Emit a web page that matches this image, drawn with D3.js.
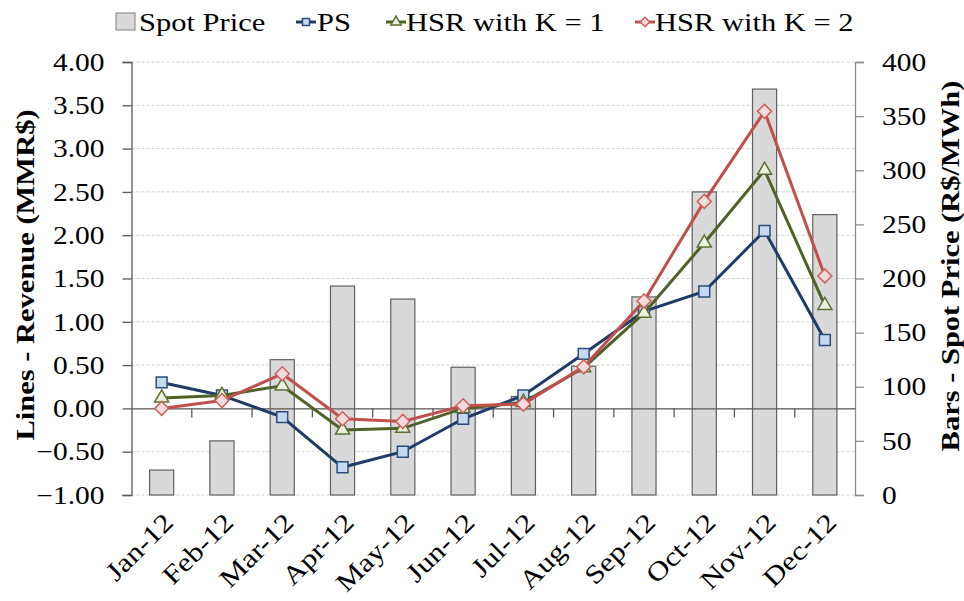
<!DOCTYPE html>
<html>
<head>
<meta charset="utf-8">
<script src="https://cdn.jsdelivr.net/npm/d3@7/dist/d3.min.js"></script>
<style>
  body { margin: 0; background: #fff; }
  svg text { font-family: "Liberation Serif", "Times New Roman", serif; fill: #000; }
</style>
</head>
<body>
<svg id="chart" width="964" height="601"></svg>
<script>
// months on the x axis
const months = ["Jan-12", "Feb-12", "Mar-12", "Apr-12", "May-12", "Jun-12",
  "Jul-12", "Aug-12", "Sep-12", "Oct-12", "Nov-12", "Dec-12"]

// bars - spot price (R$/MWh), right axis
const spotPrice = [23, 50, 125, 193, 181, 118, 91, 119, 183, 280, 375, 259]

// lines - revenue (MMR$), left axis
const psRevenue = [0.30, 0.15, -0.10, -0.68, -0.50, -0.12, 0.15, 0.63, 1.12, 1.35, 2.05, 0.79]
const hsrK1 = [0.12, 0.15, 0.26, -0.25, -0.23, 0.00, 0.07, 0.47, 1.10, 1.91, 2.75, 1.19]
const hsrK2 = [0.00, 0.09, 0.40, -0.12, -0.15, 0.03, 0.05, 0.48, 1.24, 2.39, 3.43, 1.53]

const leftTicks = [-1, -0.5, 0, 0.5, 1, 1.5, 2, 2.5, 3, 3.5, 4]
const rightTicks = [0, 50, 100, 150, 200, 250, 300, 350, 400]

const series = [
  { name: "PS", values: psRevenue, line: "#1f3b66", fill: "#c5d9f1", stroke: "#2c4d7a", shape: "square" },
  { name: "HSR with K = 1", values: hsrK1, line: "#4f6228", fill: "#ebf1de", stroke: "#5b7031", shape: "triangle" },
  { name: "HSR with K = 2", values: hsrK2, line: "#c0504d", fill: "#f2dcdb", stroke: "#d0605c", shape: "diamond" }
]

const svg = d3.select("#chart")
const plotLeft = 131.5, plotRight = 855, plotTop = 62, plotBottom = 495
const FS = 29.5        // text size (width)
const SQ = 0.85        // the source text is a bit flattened

const x = d3.scaleBand().domain(months).range([plotLeft, plotRight])
const yL = d3.scaleLinear().domain([-1, 4]).range([plotBottom, plotTop])
const yR = d3.scaleLinear().domain([0, 400]).range([plotBottom, plotTop])
const cx = m => x(m) + x.bandwidth() / 2

// gridlines (dashed)
svg.append("g")
  .selectAll("line")
  .data(leftTicks)
  .join("line")
  .attr("x1", plotLeft).attr("x2", plotRight)
  .attr("y1", d => yL(d)).attr("y2", d => yL(d))
  .attr("stroke", "#d0d0d0")
  .attr("stroke-dasharray", "3,2")
  .attr("stroke-width", 1)

// bars
const barW = x.bandwidth() * 0.4
svg.append("g")
  .selectAll("rect")
  .data(spotPrice)
  .join("rect")
  .attr("x", (d, i) => cx(months[i]) - barW / 2)
  .attr("y", d => yR(d))
  .attr("width", barW)
  .attr("height", d => plotBottom - yR(d))
  .attr("fill", "#d9d9d9")
  .attr("stroke", "#606060")
  .attr("stroke-width", 1.2)

// left axis
const axL = svg.append("g")
  .attr("transform", `translate(${plotLeft},0)`)
  .call(d3.axisLeft(yL).tickValues(leftTicks).tickFormat(d3.format(".2f")).tickSize(9).tickPadding(0))
axL.select(".domain").attr("stroke", "#595959").attr("stroke-width", 1.3)
axL.selectAll(".tick line").attr("stroke", "#595959").attr("stroke-width", 1.3)
axL.selectAll("text")
  .attr("x", null).attr("dy", null)
  .attr("font-size", FS)
  .attr("transform", `translate(-27,0) scale(1,${SQ})`)
  .attr("dominant-baseline", "central")

// right axis
const axR = svg.append("g")
  .attr("transform", `translate(${plotRight},0)`)
  .call(d3.axisRight(yR).tickValues(rightTicks).tickSize(9).tickPadding(0))
axR.select(".domain").attr("stroke", "#8c8c8c").attr("stroke-width", 1.3)
axR.selectAll(".tick line").attr("stroke", "#8c8c8c").attr("stroke-width", 1.3)
axR.selectAll("text")
  .attr("x", null).attr("dy", null)
  .attr("font-size", FS)
  .attr("transform", `translate(27,0) scale(1,${SQ})`)
  .attr("dominant-baseline", "central")

// zero line with category ticks
const zeroY = yL(0)
const axX = svg.append("g")
  .attr("transform", `translate(0,${zeroY})`)
  .call(d3.axisBottom(x).tickSize(0).tickFormat(""))
axX.select(".domain").attr("stroke", "#595959").attr("stroke-width", 1.3)
axX.selectAll(".tick").remove()
axX.selectAll("line.cat")
  .data(months.slice(1))
  .join("line")
  .attr("class", "cat")
  .attr("x1", d => x(d)).attr("x2", d => x(d))
  .attr("y1", 0).attr("y2", 9)
  .attr("stroke", "#595959").attr("stroke-width", 1.3)

// month labels, rotated
svg.append("g")
  .selectAll("text")
  .data(months)
  .join("text")
  .attr("transform", d => `translate(${cx(d) + 13},${plotBottom + 29}) rotate(-45) scale(1,${SQ})`)
  .attr("text-anchor", "end")
  .attr("font-size", 31)
  .text(d => d)

// marker shapes
const symbolFor = {
  square: d3.symbol().type(d3.symbolSquare).size(118),
  triangle: d3.symbol().type(d3.symbolTriangle).size(85),
  diamond: d3.symbol().type(d3.symbolSquare).size(98)
}
function drawMarker(g, s, px, py, sym) {
  g.append("path")
    .attr("d", sym())
    .attr("fill", s.fill)
    .attr("stroke", s.stroke)
    .attr("stroke-width", 1.5)
    .attr("transform", `translate(${px},${py})${s.shape === "diamond" ? " rotate(45)" : ""}`)
}

// lines + markers
const line = d3.line()
  .x((d, i) => cx(months[i]))
  .y(d => yL(d))
series.forEach(s => {
  const g = svg.append("g")
  g.append("path")
    .attr("d", line(s.values))
    .attr("fill", "none")
    .attr("stroke", s.line)
    .attr("stroke-width", 3)
  s.values.forEach((v, i) => drawMarker(g, s, cx(months[i]), yL(v), symbolFor[s.shape]))
})

// axis titles
svg.append("text")
  .attr("transform", `translate(25,275) rotate(-90) scale(1,${SQ})`)
  .attr("text-anchor", "middle")
  .attr("dominant-baseline", "central")
  .attr("font-size", 30.5)
  .attr("font-weight", "bold")
  .text("Lines - Revenue (MMR$)")
svg.append("text")
  .attr("transform", `translate(950,266) rotate(-90) scale(1,${SQ})`)
  .attr("text-anchor", "middle")
  .attr("dominant-baseline", "central")
  .attr("font-size", 30.5)
  .attr("font-weight", "bold")
  .text("Bars - Spot Price (R$/MWh)")

// legend
const legend = svg.append("g")
const lgY = 22
const lgText = (tx, str) => legend.append("text")
  .attr("transform", `translate(${tx},${lgY}) scale(1,${SQ})`)
  .attr("dominant-baseline", "central")
  .attr("font-size", 30.5)
  .text(str)
legend.append("rect")
  .attr("x", 116).attr("y", lgY - 9).attr("width", 19).attr("height", 17)
  .attr("fill", "#d9d9d9").attr("stroke", "#7f7f7f")
lgText(139, "Spot Price")
const lgItems = [
  { s: series[0], x0: 296, tx: 317 },
  { s: series[1], x0: 386, tx: 406 },
  { s: series[2], x0: 635, tx: 655 }
]
const lgSym = {
  square: d3.symbol().type(d3.symbolSquare).size(50),
  triangle: d3.symbol().type(d3.symbolTriangle).size(45),
  diamond: d3.symbol().type(d3.symbolSquare).size(45)
}
lgItems.forEach(it => {
  legend.append("line")
    .attr("x1", it.x0).attr("x2", it.x0 + 20)
    .attr("y1", lgY).attr("y2", lgY)
    .attr("stroke", it.s.line).attr("stroke-width", 3)
  drawMarker(legend, it.s, it.x0 + 10, lgY, lgSym[it.s.shape])
  lgText(it.tx, it.s.name)
})
</script>
</body>
</html>
